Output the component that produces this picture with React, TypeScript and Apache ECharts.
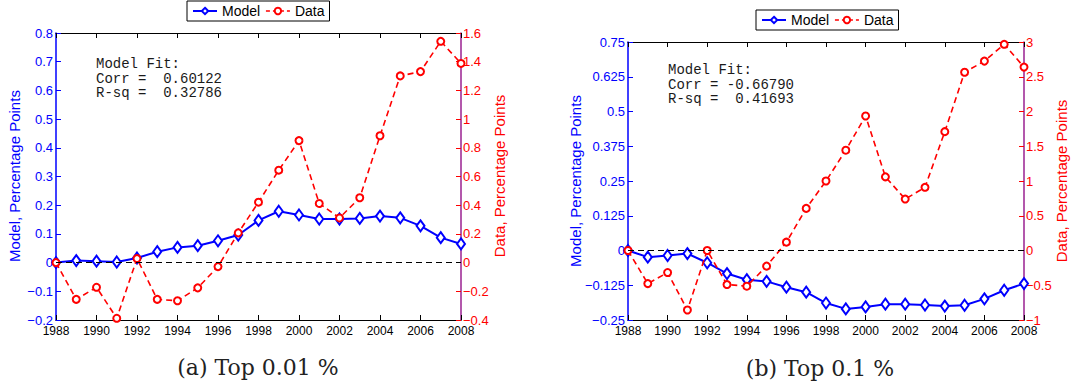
import React, { useEffect, useRef } from 'react';
import * as echarts from 'echarts';

const years = [1988, 1989, 1990, 1991, 1992, 1993, 1994, 1995, 1996, 1997, 1998, 1999, 2000, 2001, 2002, 2003, 2004, 2005, 2006, 2007, 2008];

// (a) Top 0.01 %
const modelTop001 = [0, 0.007, 0.005, 0.002, 0.016, 0.038, 0.053, 0.059, 0.076, 0.096, 0.147, 0.179, 0.166, 0.152, 0.152, 0.154, 0.162, 0.156, 0.128, 0.087, 0.065];
const dataTop001 = [0, -0.256, -0.172, -0.388, 0.028, -0.256, -0.266, -0.176, -0.028, 0.207, 0.421, 0.644, 0.85, 0.412, 0.311, 0.452, 0.884, 1.301, 1.331, 1.542, 1.388];

// (b) Top 0.1 %
const modelTop01 = [0, -0.024, -0.018, -0.011, -0.044, -0.083, -0.105, -0.111, -0.132, -0.15, -0.189, -0.21, -0.203, -0.193, -0.193, -0.196, -0.2, -0.197, -0.174, -0.143, -0.119];
const dataTop01 = [0, -0.476, -0.317, -0.856, 0, -0.49, -0.514, -0.225, 0.12, 0.606, 1.0, 1.443, 1.935, 1.06, 0.74, 0.909, 1.71, 2.565, 2.725, 2.967, 2.639];

const legendNames = ['Model', 'Data'];
const fitTextA = ['Model Fit:', 'Corr =  0.60122', 'R-sq =  0.32786'];
const fitTextB = ['Model Fit:', 'Corr = -0.66790', 'R-sq =  0.41693'];
const captionA = '(a) Top 0.01 %';
const captionB = '(b) Top 0.1 %';
const leftTitle = 'Model, Percentage Points';
const rightTitle = 'Data, Percentage Points';

const BLUE = '#0000ff';
const RED = '#ff0000';
const PURPLE = '#9a2090';
const SANS = 'Liberation Sans, Arial, Helvetica, sans-serif';

const fmt = (v: number) => String(Number(v.toFixed(4))).replace('-', '\u2212');

function xAxes(grid: number) {
  const base = {
    type: 'value' as const,
    gridIndex: grid,
    min: 1988,
    max: 2008,
    interval: 2,
    splitLine: { show: false },
    axisLine: { show: true, onZero: false, lineStyle: { color: '#000', width: 1.2 } },
    axisTick: { show: true, inside: true, length: 5, lineStyle: { color: '#000' } },
  };
  return [
    { ...base, position: 'bottom', axisLabel: { color: '#000', fontSize: 12, fontFamily: SANS, margin: 5, formatter: (v: number) => String(v) } },
    { ...base, position: 'top', axisLabel: { show: false } },
  ];
}

function yAxes(grid: number, lmin: number, lmax: number, lint: number, rmin: number, rmax: number, rint: number) {
  return [
    {
      type: 'value', gridIndex: grid, position: 'left', min: lmin, max: lmax, interval: lint,
      splitLine: { show: false },
      axisLine: { show: true, onZero: false, lineStyle: { color: BLUE, width: 1.5 } },
      axisTick: { show: true, inside: true, length: 5, lineStyle: { color: BLUE } },
      axisLabel: { color: BLUE, fontSize: 13, fontFamily: SANS, margin: 3, formatter: fmt },
    },
    {
      type: 'value', gridIndex: grid, position: 'right', min: rmin, max: rmax, interval: rint,
      splitLine: { show: false },
      axisLine: { show: true, onZero: false, lineStyle: { color: PURPLE, width: 1.5 } },
      axisTick: { show: true, inside: true, length: 5, lineStyle: { color: RED } },
      axisLabel: { color: RED, fontSize: 13, fontFamily: SANS, margin: 2, formatter: fmt },
    },
  ];
}

function seriesPair(xIdx: number, yLeft: number, yRight: number, model: number[], data: number[]) {
  return [
    {
      name: 'Model', type: 'line', xAxisIndex: xIdx, yAxisIndex: yLeft,
      data: years.map((y, i) => [y, model[i]]),
      symbol: 'emptyDiamond', symbolSize: [8, 11],
      lineStyle: { color: BLUE, width: 2 },
      itemStyle: { color: BLUE, borderWidth: 1.6 },
      z: 3,
      markLine: {
        silent: true, symbol: 'none', label: { show: false },
        lineStyle: { color: '#000', width: 1, type: [6, 4] },
        data: [{ yAxis: 0 }],
      },
    },
    {
      name: 'Data', type: 'line', xAxisIndex: xIdx, yAxisIndex: yRight,
      data: years.map((y, i) => [y, data[i]]),
      symbol: 'emptyCircle', symbolSize: 7,
      lineStyle: { color: RED, width: 1.6, type: [6, 4] },
      itemStyle: { color: RED, borderWidth: 1.5 },
      z: 4,
    },
  ];
}

function legend(left: number, top: number) {
  return {
    left, top, orient: 'horizontal',
    data: [
      { name: legendNames[0], lineStyle: { color: BLUE, width: 2, type: 'solid' } },
      { name: legendNames[1], lineStyle: { color: RED, width: 1.6, type: [4, 3] } },
    ],
    borderColor: '#000', borderWidth: 1, backgroundColor: '#fff', borderRadius: 0,
    padding: [3, 5], itemGap: 5, itemWidth: 24, itemHeight: 8, selectedMode: false,
    textStyle: { fontSize: 14, color: '#000', fontFamily: SANS },
  };
}

function txt(x: number, y: number, text: string, style: any, rotation = 0) {
  return {
    type: 'text', x, y, rotation, silent: true,
    style: { text, ...style },
  };
}

export default function App() {
  const ref = useRef<HTMLDivElement>(null);
  useEffect(() => {
    if (!ref.current) return;
    const chart = echarts.init(ref.current, null, { renderer: 'svg' });
    const monoStyle = { fill: '#1a1a1a', font: '14px "Liberation Mono", "Courier New", monospace', lineHeight: 14.5, align: 'left', verticalAlign: 'top' };
    const capStyle = { fill: '#222', font: '22px "DejaVu Serif", serif', align: 'center', verticalAlign: 'middle' };
    const titleStyle = (c: string) => ({ fill: c, font: `15px ${SANS}`, align: 'center', verticalAlign: 'middle' });
    chart.setOption({
      animation: false,
      backgroundColor: '#fff',
      grid: [
        { left: 56, top: 33, width: 405, height: 287 },
        { left: 628, top: 42, width: 396, height: 278 },
      ],
      xAxis: [...xAxes(0), ...xAxes(1)],
      yAxis: [
        ...yAxes(0, -0.2, 0.8, 0.1, -0.4, 1.6, 0.2),
        ...yAxes(1, -0.25, 0.75, 0.125, -1, 3, 0.5),
      ],
      legend: [legend(187, 1), legend(756, 10)],
      series: [
        ...seriesPair(0, 0, 1, modelTop001, dataTop001),
        ...seriesPair(2, 2, 3, modelTop01, dataTop01),
      ],
      graphic: [
        txt(96, 57, fitTextA.join('\n'), monoStyle),
        txt(668, 63, fitTextB.join('\n'), monoStyle),
        txt(14, 176, leftTitle, titleStyle(BLUE), Math.PI / 2),
        txt(499, 176, rightTitle, titleStyle(RED), Math.PI / 2),
        txt(575, 181, leftTitle, titleStyle(BLUE), Math.PI / 2),
        txt(1061, 181, rightTitle, titleStyle(RED), Math.PI / 2),
        txt(258, 367, captionA, capStyle),
        txt(820, 368, captionB, capStyle),
      ],
    });
    return () => chart.dispose();
  }, []);
  return (
    <div
      ref={ref}
      style={{ position: 'absolute', left: 0, top: 0, width: 1088, height: 387, background: '#fff' }}
    />
  );
}
